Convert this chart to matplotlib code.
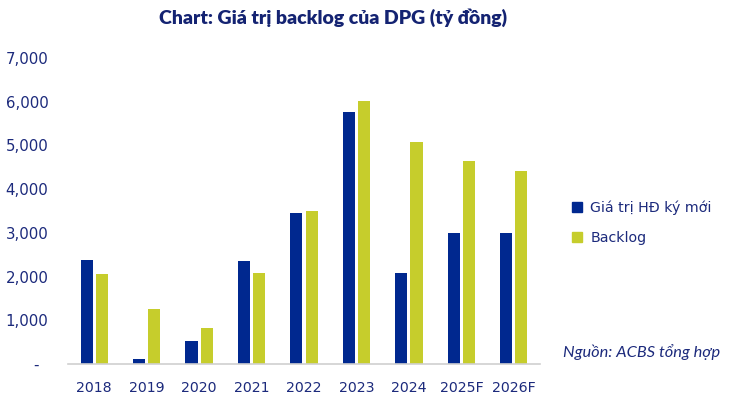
import numpy as np
import matplotlib
matplotlib.use('Agg')
import matplotlib.pyplot as plt
from matplotlib.ticker import FuncFormatter
from matplotlib.patches import Patch

years = ['2018', '2019', '2020', '2021', '2022', '2023', '2024', '2025F', '2026F']
new_contracts = [2380, 115, 535, 2355, 3455, 5775, 2090, 3000, 3000]
backlog = [2060, 1265, 830, 2090, 3510, 6020, 5070, 4645, 4415]
series_names = ['Giá trị HĐ ký mới', 'Backlog']

navy = '#1c2a7c'
title_navy = '#142372'
blue = '#00288f'
lime = '#c6cd2c'


def fmt_thousands(v, _):
  '''0 shows as a dash, like the source chart'''
  if v == 0:
    return '-  '
  return '{:,.0f}'.format(v)


fig = plt.figure(figsize=(7.29, 3.96), dpi=100)
ax = fig.add_axes([68/729, 1 - 364/396, 472/729, (364 - 58)/396])

x = np.arange(len(years))
w = 0.23
off = 0.145
ax.bar(x - off, new_contracts, w, color=blue, label=series_names[0])
ax.bar(x + off, backlog, w, color=lime, label=series_names[1])

ax.set_xlim(-0.5, len(years) - 0.5)
ax.set_ylim(0, 7000)
ax.set_yticks(range(0, 7001, 1000))
ax.yaxis.set_major_formatter(FuncFormatter(fmt_thousands))
ax.set_xticks(x, years)

for s in ['top', 'right', 'left']:
  ax.spines[s].set_visible(False)
ax.spines['bottom'].set_color('#d0d0d0')
ax.spines['bottom'].set_linewidth(1.2)
ax.tick_params(axis='both', length=0, colors=navy)
ax.tick_params(axis='y', pad=14, labelsize=10.8)
ax.tick_params(axis='x', pad=12, labelsize=10.2)

handles = [Patch(color=blue), Patch(color=lime)]
leg = fig.legend(handles, series_names, loc='center left', bbox_to_anchor=(559/729, 1 - 223/396),
                 frameon=False, fontsize=10.2, handlelength=0.7, handleheight=0.7,
                 handletextpad=0.6, labelspacing=1.15, labelcolor=navy)

fig.text(333/729, 1 - 18/396, 'Chart: Giá trị backlog của DPG (tỷ đồng)', ha='center', va='center',
         fontsize=14, fontweight='heavy', color=title_navy, family='Lato')
fig.text(720/729, 1 - 352/396, 'Nguồn: ACBS tổng hợp', ha='right', va='center',
         fontsize=11.8, style='italic', color=navy, family='Lato')

fig.savefig('out.png', dpi=100)
